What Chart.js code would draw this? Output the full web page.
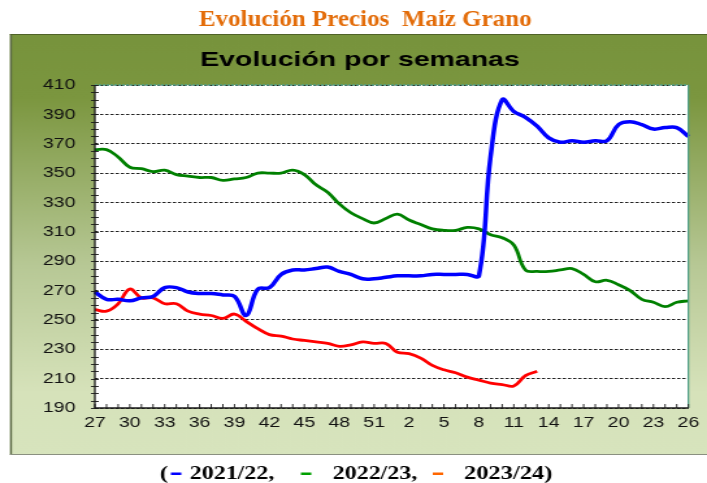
<!DOCTYPE html>
<html>
<head>
<meta charset="utf-8">
<script src="https://cdn.jsdelivr.net/npm/chart.js@4.4.1/dist/chart.umd.min.js"></script>
<style>
    html, body { margin: 0; padding: 0; background: #ffffff; overflow: hidden; }
    /* the original picture is stretched sideways, so the canvas is drawn narrow and widened */
    #maizChart { width: 707px; height: 483px; }
</style>
</head>
<body>
<canvas id="maizChart" width="544" height="483" style="width:707px;height:483px"></canvas>
<script>
// ---------- Data ----------

const weeks = [27, 28, 29, 30, 31, 32, 33, 34, 35, 36, 37, 38, 39, 40, 41, 42, 43, 44, 45, 46, 47, 48, 49, 50, 51, 52,
    1, 2, 3, 4, 5, 6, 7, 8, 9, 10, 11, 12, 13, 14, 15, 16, 17, 18, 19, 20, 21, 22, 23, 24, 25, 26];

const season2122 = [269, 264, 264, 263, 265, 266, 272, 272, 269, 268, 268, 267, 266, 253, 271, 272, 281, 284, 284, 285, 286, 283, 281,
    278, 278, 279, 280, 280, 280, 281, 281, 281, 281, 280, 361, 400, 392, 388, 382, 374, 371, 372, 371, 372, 372, 383, 385, 383, 380, 381, 381, 375];

const season2223 = [366, 366, 361, 354, 353, 351, 352, 349, 348, 347, 347, 345, 346, 347, 350, 350, 350, 352, 349, 342, 337, 329, 323,
    319, 316, 319, 322, 318, 315, 312, 311, 311, 313, 312, 308, 306, 301, 284, 283, 283, 284, 285, 281, 276, 277, 274, 270, 264, 262, 259, 262, 263];

const season2324 = [257, 256, 261, 271, 265, 265, 261, 261, 256, 254, 253, 251, 254, 249, 244, 240, 239, 237, 236, 235, 234, 232, 233,
    235, 234, 234, 228, 227, 224, 219, 216, 214, 211, 209, 207, 206, 205, 212, 215];

const seasons = ["2021/22", "2022/23", "2023/24"];
const yMin = 190;
const yMax = 410;
const yStep = 20;

// ---------- Helpers ----------

function fitText(c, text, x, y, w, align) {
    const m = c.measureText(text).width;
    c.save();
    c.translate(x, y);
    c.scale(w / m, 1);
    c.textAlign = align || "center";
    c.fillText(text, 0, 0);
    c.restore();
}

// ---------- Frame plugin ----------

const frame = {
    id: "frame",
    beforeDraw(chart) {
        const c = chart.ctx;
        const a = chart.chartArea;

        const g = c.createLinearGradient(0, 34, 0, 455);
        g.addColorStop(0, "#77933c");
        g.addColorStop(0.15, "#7b963f");
        g.addColorStop(0.55, "#b7c895");
        g.addColorStop(0.85, "#d6e2ba");
        g.addColorStop(1, "#d7e4bd");
        c.fillStyle = g;
        c.fillRect(7.7, 34, 540, 421);

        c.fillStyle = "#5d6b47";
        c.fillRect(7.7, 34, 1.5, 421);
        c.fillStyle = "#4f6228";
        c.fillRect(7.7, 34, 540, 1);
        c.fillStyle = "#8a9080";
        c.fillRect(7.7, 454, 540, 1);

        c.fillStyle = "#ffffff";
        c.fillRect(a.left, a.top, a.right - a.left, a.bottom - a.top);

        c.textBaseline = "middle";
        c.fillStyle = "#e36c09";
        c.font = "bold 23px 'Liberation Serif', 'DejaVu Serif', serif";
        fitText(c, "Evolución Precios  Maíz Grano", 281, 20, 256);

        c.fillStyle = "#000000";
        c.font = "bold 21px 'Liberation Sans', Arial, sans-serif";
        fitText(c, "Evolución por semanas", 277, 60, 246);
    },
    afterDatasetsDraw(chart) {
        const c = chart.ctx;
        const a = chart.chartArea;
        const xs = chart.scales.x;
        const ys = chart.scales.y;

        c.save();
        // plot border
        c.strokeStyle = "#4e9e86";
        c.lineWidth = 1.3;
        c.setLineDash([2, 1]);
        c.beginPath();
        c.moveTo(a.left, a.top);
        c.lineTo(a.right, a.top);
        c.stroke();
        c.setLineDash([]);
        c.beginPath();
        c.moveTo(a.right, a.top);
        c.lineTo(a.right, a.bottom);
        c.stroke();

        // axes
        c.strokeStyle = "#1a1a1a";
        c.lineWidth = 1.3;
        c.beginPath();
        c.moveTo(a.left, a.top);
        c.lineTo(a.left, a.bottom);
        c.lineTo(a.right, a.bottom);
        c.stroke();

        // x ticks pointing up
        c.lineWidth = 0.9;
        for (let i = 0; i < weeks.length; i++) {
            const x = xs.getPixelForValue(i);
            c.beginPath();
            c.moveTo(x, a.bottom);
            c.lineTo(x, a.bottom - 4);
            c.stroke();
        }

        // y minor ticks
        for (let v = yMin; v <= yMax; v += 5) {
            const y = Math.round(ys.getPixelForValue(v)) + 0.5;
            c.beginPath();
            c.moveTo(a.left - 3, y);
            c.lineTo(a.left + 3, y);
            c.stroke();
        }
        c.restore();
    },
    afterDraw(chart) {
        // legend line under the box
        const c = chart.ctx;
        const dashColors = ["#0000ff", "#00a000", "#ff6600"];
        const dashX = [131.5, 231.5, 333];
        const textX = [146, 256, 357];
        const y = 474;

        c.save();
        c.fillStyle = "#000000";
        c.textBaseline = "middle";
        c.textAlign = "left";
        c.font = "bold 19px 'Liberation Serif', 'DejaVu Serif', serif";
        c.fillText("(", 123, y);
        seasons.forEach((s, i) => {
            c.fillStyle = dashColors[i];
            c.fillRect(dashX[i], y - 1.5, 8, 2.5);
            c.fillStyle = "#000000";
            const t = i < seasons.length - 1 ? s + "," : s + ")";
            fitText(c, t, textX[i], y, i < seasons.length - 1 ? 65 : 68, "left");
        });
        c.restore();
    }
};

// ---------- Chart ----------

const ctx = document.getElementById("maizChart");

new Chart(ctx, {
    type: "line",
    data: {
        labels: weeks,
        datasets: [{
            label: seasons[0],
            data: season2122,
            borderColor: "#0000ff",
            borderWidth: 3.5,
            pointRadius: 0,
            tension: 0.4
        }, {
            label: seasons[1],
            data: season2223,
            borderColor: "#008000",
            borderWidth: 2.8,
            pointRadius: 0,
            tension: 0.4
        }, {
            label: seasons[2],
            data: season2324,
            borderColor: "#ff0000",
            borderWidth: 2.8,
            pointRadius: 0,
            tension: 0.4
        }]
    },
    options: {
        responsive: false,
        animation: false,
        events: [],
        devicePixelRatio: 1,
        layout: {
            padding: { left: 8, right: 10, top: 85, bottom: 35 }
        },
        plugins: {
            legend: { display: false },
            tooltip: { enabled: false }
        },
        scales: {
            x: {
                type: "category",
                offset: false,
                afterFit(scale) { scale.height = 40; },
                grid: { display: false, drawTicks: false },
                border: { display: false },
                ticks: {
                    autoSkip: false,
                    maxRotation: 0,
                    padding: 6,
                    color: "#111111",
                    font: { family: "'Liberation Sans', Arial, sans-serif", size: 15 },
                    callback(val, i) {
                        return i % 3 === 0 ? weeks[i] : "";
                    }
                }
            },
            y: {
                min: yMin,
                max: yMax,
                afterFit(scale) { scale.width = 65; },
                border: { display: false, dash: [2.5, 1.5] },
                grid: {
                    color: "#222222",
                    lineWidth: 1,
                    drawTicks: false
                },
                ticks: {
                    stepSize: yStep,
                    padding: 15,
                    color: "#111111",
                    font: { family: "'Liberation Sans', Arial, sans-serif", size: 15 }
                }
            }
        }
    },
    plugins: [frame]
});
</script>
</body>
</html>
